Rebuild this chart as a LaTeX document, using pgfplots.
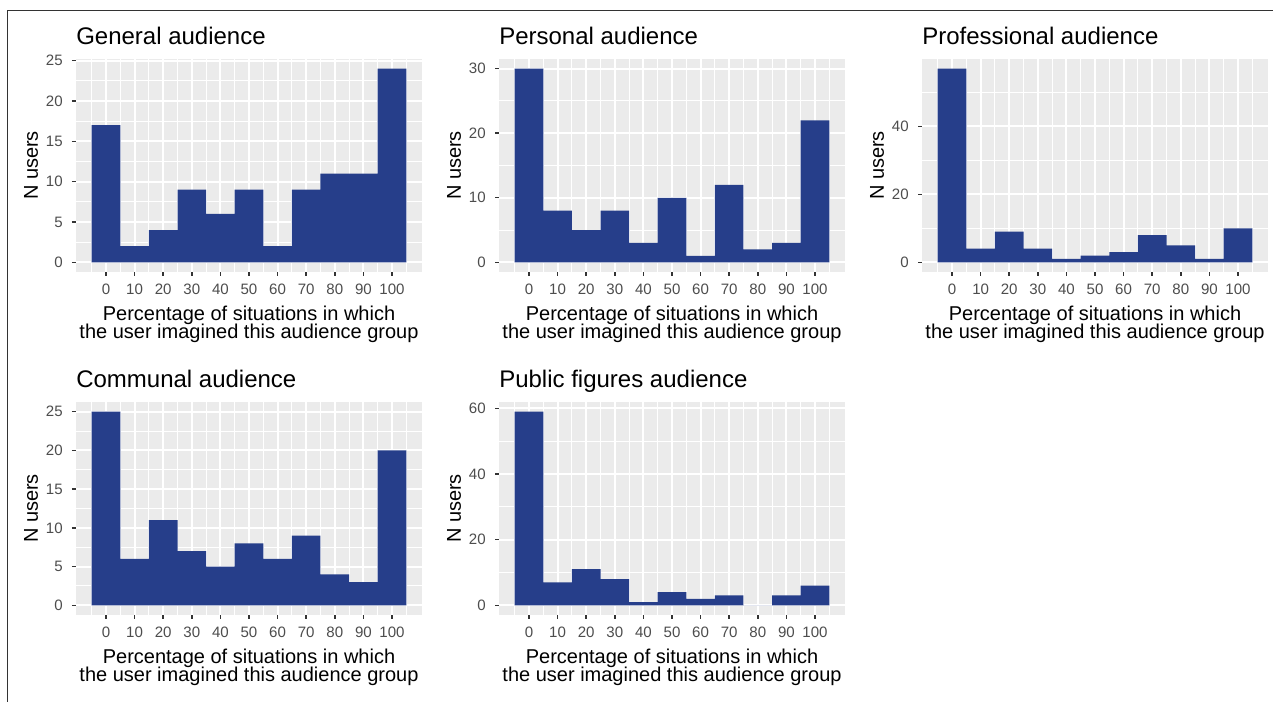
\documentclass[border=0pt]{standalone}
\usepackage{fontspec}
\setmainfont{Liberation Sans}
\usepackage{pgfplots}
\pgfplotsset{compat=1.18}
\definecolor{barblue}{RGB}{38,62,138}
\definecolor{panelgray}{RGB}{235,235,235}
\definecolor{tickgray}{RGB}{51,51,51}
\definecolor{labgray}{RGB}{77,77,77}
\newcommand\ttl{\fontsize{18}{20}\selectfont}
\newcommand\lab{\fontsize{15}{17}\selectfont}
\newcommand\tkl{\fontsize{11.3}{13}\selectfont}
\pgfplotsset{
  hist/.style={
    scale only axis, width=259.5pt, height=159.75pt,
    anchor=south west, clip=false,
    xmin=-10.5, xmax=110.5,
    xtick={0,10,...,100}, minor xtick={-5,5,...,105},
    axis background/.style={fill=panelgray},
    axis line style={draw=none},
    grid=both,
    major grid style={white, line width=1.6pt},
    minor grid style={white, line width=0.8pt},
    tick align=outside,
    major tick style={color=tickgray, line width=1.1pt},
    major tick length=3pt,
    minor tick length=0pt,
    xtick pos=bottom, ytick pos=left,
    /pgf/number format/assume math mode=true,
    tick label style={font=\tkl, text=labgray, inner sep=0pt},
    xticklabel style={anchor=base, yshift=-13.8pt},
    yticklabel style={anchor=east, xshift=-6.75pt},
    ylabel={N users},
    ylabel style={at={(axis description cs:-0.13,0.5)}, anchor=center, font=\lab},
  }
}
\newcommand\decor[1]{%
  \node[anchor=base west, font=\ttl, inner sep=0pt] at ([yshift=10.5pt]rel axis cs:0,1) {#1};
  \node[anchor=base, font=\lab, inner sep=0pt] at ([yshift=-36.2pt]rel axis cs:0.5,0) {Percentage of situations in which};
  \node[anchor=base, font=\lab, inner sep=0pt] at ([yshift=-50.2pt]rel axis cs:0.5,0) {the user imagined this audience group};
}
\begin{document}
\begin{tikzpicture}
\useasboundingbox (0,0) rectangle (954.75pt,526.5pt);
\fill[white] (0,0) rectangle (954.75pt,526.5pt);
\draw[line width=1.1pt, color=black!80] (5.6pt,0) -- (5.6pt,518.6pt) -- (954.75pt,518.6pt);

% General audience
\begin{axis}[hist, at={(57pt,322.5pt)},
  ymin=-1.2, ymax=25.2, ytick={0,5,...,25}, minor ytick={2.5,7.5,...,22.5}]
\addplot[ybar interval, fill=barblue, draw=none] coordinates {
(-5,17) (5,2) (15,4) (25,9) (35,6) (45,9) (55,2) (65,9) (75,11) (85,11) (95,24) (105,24)};
\decor{General audience}
\end{axis}

% Personal audience
\begin{axis}[hist, at={(374.25pt,322.5pt)},
  ymin=-1.5, ymax=31.5, ytick={0,10,20,30}, minor ytick={5,15,25}]
\addplot[ybar interval, fill=barblue, draw=none] coordinates {
(-5,30) (5,8) (15,5) (25,8) (35,3) (45,10) (55,1) (65,12) (75,2) (85,3) (95,22) (105,22)};
\decor{Personal audience}
\end{axis}

% Professional audience
\begin{axis}[hist, at={(691.5pt,322.5pt)},
  ymin=-2.85, ymax=59.85, ytick={0,20,40}, minor ytick={10,30,50}]
\addplot[ybar interval, fill=barblue, draw=none] coordinates {
(-5,57) (5,4) (15,9) (25,4) (35,1) (45,2) (55,3) (65,8) (75,5) (85,1) (95,10) (105,10)};
\decor{Professional audience}
\end{axis}

% Communal audience
\begin{axis}[hist, at={(57pt,65.25pt)},
  ymin=-1.25, ymax=26.25, ytick={0,5,...,25}, minor ytick={2.5,7.5,...,22.5}]
\addplot[ybar interval, fill=barblue, draw=none] coordinates {
(-5,25) (5,6) (15,11) (25,7) (35,5) (45,8) (55,6) (65,9) (75,4) (85,3) (95,20) (105,20)};
\decor{Communal audience}
\end{axis}

% Public figures audience
\begin{axis}[hist, at={(374.25pt,65.25pt)},
  ymin=-2.95, ymax=61.95, ytick={0,20,40,60}, minor ytick={10,30,50}]
\addplot[ybar interval, fill=barblue, draw=none] coordinates {
(-5,59) (5,7) (15,11) (25,8) (35,1) (45,4) (55,2) (65,3) (75,0) (85,3) (95,6) (105,6)};
\decor{Public figures audience}
\end{axis}
\end{tikzpicture}
\end{document}
